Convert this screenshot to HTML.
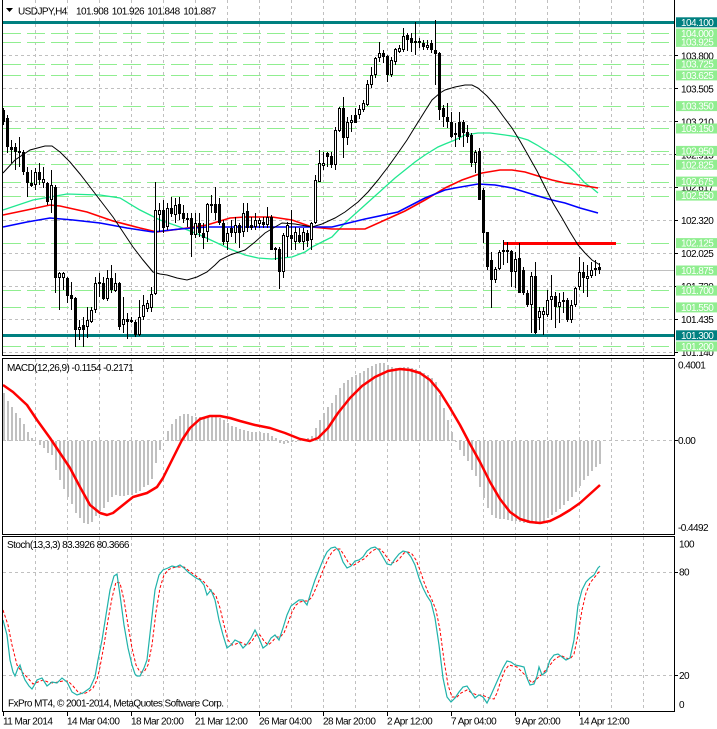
<!DOCTYPE html>
<html><head><meta charset="utf-8"><style>
html,body{margin:0;padding:0;background:#fff;}
svg{display:block;}
text{font-family:"Liberation Sans",sans-serif;font-size:10px;letter-spacing:-0.55px;}
</style></head><body>
<svg width="717" height="729" viewBox="0 0 717 729" xmlns="http://www.w3.org/2000/svg">
<rect x="0" y="0" width="717" height="729" fill="#fff"/>
<!-- vertical grid -->
<g stroke="#c0c0c0" stroke-width="1" stroke-dasharray="3,3">
<path d="M35.5 0V355M67.5 0V355M99.5 0V355M131.5 0V355M163.5 0V355M195.5 0V355M227.5 0V355M259.5 0V355M291.5 0V355M323.5 0V355M355.5 0V355M387.5 0V355M419.5 0V355M451.5 0V355M483.5 0V355M515.5 0V355M547.5 0V355M579.5 0V355M611.5 0V355M643.5 0V355"/>
<path d="M35.5 359V534M67.5 359V534M99.5 359V534M131.5 359V534M163.5 359V534M195.5 359V534M227.5 359V534M259.5 359V534M291.5 359V534M323.5 359V534M355.5 359V534M387.5 359V534M419.5 359V534M451.5 359V534M483.5 359V534M515.5 359V534M547.5 359V534M579.5 359V534M611.5 359V534M643.5 359V534"/>
<path d="M35.5 537V711M67.5 537V711M99.5 537V711M131.5 537V711M163.5 537V711M195.5 537V711M227.5 537V711M259.5 537V711M291.5 537V711M323.5 537V711M355.5 537V711M387.5 537V711M419.5 537V711M451.5 537V711M483.5 537V711M515.5 537V711M547.5 537V711M579.5 537V711M611.5 537V711M643.5 537V711"/>
<path d="M3 55.5H674M3 88.5H674M3 121.5H674M3 154.5H674M3 187.5H674M3 220.5H674M3 253.5H674M3 286.5H674M3 319.5H674M3 352.5H674"/>
<path d="M3 440.5H674M3 572.5H674M3 675.5H674"/>
</g>
<!-- green dashed levels -->
<g stroke="#90ee90" stroke-width="1" stroke-dasharray="18,6">
<path d="M3 33.5H674M3 42.5H674M3 64.5H674M3 75.5H674M3 106.5H674M3 128.5H674M3 151.5H674M3 164.5H674M3 182.5H674M3 196.5H674M3 243.5H674M3 290.5H674M3 307.5H674M3 346.5H674"/>
</g>
<!-- bid line -->
<path d="M3 270.5H674" stroke="#c0c0c0" stroke-width="1"/>
<!-- teal lines -->
<path d="M3 22.5H674M3 335.5H674" stroke="#008080" stroke-width="3"/>
<!-- red level -->
<path d="M503 243.5H616" stroke="#ff0000" stroke-width="3"/>
<!-- moving averages -->
<polyline fill="none" stroke="#20e890" stroke-width="1.3" points="3,210 33,200 67,194 100,195 120,198 140,210 160,220 180,227 200,235 215,242 230,249 245,255 258,258 272,259 292,257 305,252 312,247 322,242 332,237 345,223 355,214 365,205 375,196 385,187 395,178 405,170 415,162 425,155 438,147 445,144 455,140 465,135 478,133 490,133 505,135 518,137 528,140 537,145 545,150 555,156 565,163 575,172 585,183 592,188 598,193"/>
<polyline fill="none" stroke="#ff0000" stroke-width="1.6" points="3,215 27,210 50,205 60,206 87,212 113,221 140,228 157,232 180,229 207,225 230,218 245,217 272,217 292,220 312,227 332,229 365,229 385,220 405,211 425,200 445,188 462,180 482,173 500,170 512,170 525,172 538,176 552,180 565,183 580,185 598,188"/>
<polyline fill="none" stroke="#0000ff" stroke-width="1.6" points="3,227 27,222 50,218 73,220 100,223 127,228 153,232 180,229 207,227 230,227 272,227 305,227 332,227 365,219 398,212 425,198 445,190 455,188 478,184 495,185 512,188 525,192 538,196 552,200 565,203 580,208 598,213"/>
<polyline fill="none" stroke="#000" stroke-width="1" points="3,173 15,160 30,150 45,146 52,146 60,152 70,162 80,174 87,183 100,200 113,217 123,232 133,247 143,260 153,272 160,274 167,275 177,278 187,280 197,277 207,272 215,265 220,260 230,255 245,250 255,242 265,233 275,227 282,223 295,224 312,227 322,224 335,218 345,212 358,202 368,192 378,180 388,167 398,153 407,140 415,127 425,111 432,100 440,93 445,90 455,87 465,85 472,85 478,88 487,96 495,105 503,116 512,128 520,141 528,155 537,171 545,187 553,203 562,218 570,232 578,245 585,253 592,260 600,265"/>
<!-- candle wicks -->
<path fill="none" stroke="#000" stroke-width="1" d="M3.5 108V125M7.5 115V153M11.5 140V163M15.5 143V170M19.5 137V167M23.5 150V175M27.5 167V197M31.5 170V187M35.5 168V190M39.5 163V185M43.5 167V188M47.5 182V205M51.5 170V213M55.5 185V293M59.5 272V310M63.5 272V290M67.5 277V303M71.5 282V310M75.5 297V347M79.5 320V340M83.5 317V347M87.5 307V338M91.5 307V323M95.5 277V313M99.5 273V297M103.5 277V300M107.5 270V301M111.5 265V293M115.5 273V292M119.5 282V330M123.5 297V333M127.5 313V339M131.5 317V323M135.5 320V337M139.5 300V336M143.5 295V320M147.5 300V312M151.5 287V312M155.5 182V295M159.5 203V232M163.5 200V233M167.5 203V230M171.5 197V217M175.5 198V223M179.5 197V220M183.5 205V223M187.5 213V227M191.5 213V257M195.5 213V238M199.5 213V237M203.5 223V249M207.5 203V242M211.5 195V213M215.5 187V220M219.5 198V225M223.5 220V245M227.5 228V250M231.5 220V237M235.5 217V243M239.5 223V248M243.5 203V237M247.5 203V232M251.5 217V230M255.5 213V230M259.5 218V228M263.5 217V228M267.5 207V228M271.5 215V250M275.5 247V260M279.5 247V289M283.5 233V278M287.5 222V257M291.5 210V250M295.5 227V250M299.5 228V243M303.5 228V250M307.5 230V247M311.5 222V250M315.5 175V224M319.5 150V182M323.5 152V170M327.5 152V167M331.5 152V168M335.5 127V170M339.5 107V132M343.5 97V158M347.5 117V145M351.5 115V132M355.5 108V123M359.5 105V119M363.5 100V112M367.5 80V106M371.5 67V88M375.5 57V78M379.5 42V62M383.5 50V63M387.5 55V82M391.5 57V77M395.5 48V65M399.5 45V53M403.5 28V52M407.5 33V51M411.5 33V52M415.5 22V55M419.5 38V48M423.5 40V50M427.5 40V50M431.5 40V53M435.5 20V85M439.5 52V120M443.5 105V127M447.5 103V128M451.5 112V138M455.5 123V147M459.5 112V140M463.5 120V147M467.5 125V143M471.5 133V167M475.5 150V173M479.5 148V200M483.5 188V243M487.5 232V270M491.5 252V308M495.5 267V283M499.5 250V270M503.5 240V265M507.5 242V263M511.5 250V287M515.5 252V288M519.5 243V293M523.5 267V295M527.5 290V307M531.5 272V333M535.5 262V334M539.5 307V330M543.5 307V335M547.5 290V317M551.5 275V320M555.5 292V328M559.5 293V323M563.5 292V313M567.5 298V322M571.5 300V323M575.5 287V307M579.5 257V290M583.5 262V293M587.5 265V297M591.5 262V278M595.5 260V276M599.5 263V274"/>
<!-- bearish bodies -->
<path fill="#000" stroke="none" d="M2 110h3v12h-3zM6 118h3v29h-3zM10 147h3v3h-3zM14 147h3v5h-3zM22 152h3v20h-3zM26 172h3v11h-3zM30 183h3v3h-3zM38 172h3v8h-3zM46 183h3v19h-3zM54 187h3v91h-3zM66 278h3v18h-3zM70 295h3v4h-3zM74 298h3v32h-3zM82 325h3v5h-3zM102 283h3v16h-3zM110 278h3v12h-3zM118 283h3v44h-3zM126 319h3v3h-3zM134 322h3v13h-3zM162 210h3v18h-3zM170 208h3v6h-3zM178 204h3v10h-3zM182 213h3v6h-3zM190 218h3v17h-3zM198 223h3v10h-3zM202 233h3v5h-3zM214 204h3v9h-3zM218 204h3v19h-3zM222 223h3v19h-3zM230 228h3v5h-3zM238 225h3v8h-3zM246 211h3v17h-3zM250 225h3v3h-3zM262 222h3v3h-3zM270 217h3v33h-3zM274 248h3v2h-3zM278 249h3v23h-3zM290 235h3v4h-3zM298 235h3v7h-3zM306 233h3v8h-3zM326 153h3v4h-3zM330 156h3v9h-3zM342 108h3v30h-3zM354 115h3v8h-3zM382 53h3v4h-3zM386 56h3v19h-3zM406 35h3v5h-3zM410 38h3v5h-3zM414 41h3v2h-3zM418 41h3v2h-3zM422 43h3v4h-3zM430 43h3v7h-3zM434 50h3v4h-3zM438 53h3v57h-3zM442 108h3v9h-3zM446 117h3v5h-3zM450 122h3v15h-3zM458 122h3v15h-3zM462 122h3v11h-3zM466 132h3v5h-3zM470 135h3v28h-3zM478 151h3v49h-3zM482 190h3v43h-3zM486 232h3v35h-3zM490 260h3v20h-3zM510 251h3v21h-3zM518 258h3v35h-3zM522 270h3v23h-3zM526 293h3v12h-3zM534 276h3v57h-3zM554 296h3v11h-3zM566 300h3v20h-3zM582 272h3v6h-3zM598 267h3v3h-3z"/>
<!-- bullish bodies -->
<path fill="#fff" stroke="#000" stroke-width="1" d="M18.5 151.5h2v1h-2zM34.5 172.5h2v12h-2zM42.5 179.5h2v3h-2zM50.5 185.5h2v14h-2zM58.5 273.5h2v4h-2zM62.5 273.5h2v4h-2zM78.5 327.5h2v2h-2zM86.5 320.5h2v6h-2zM90.5 310.5h2v11h-2zM94.5 283.5h2v26h-2zM98.5 282.5h2v1h-2zM106.5 278.5h2v20h-2zM114.5 283.5h2v7h-2zM122.5 319.5h2v5h-2zM130.5 320.5h2v1h-2zM138.5 317.5h2v17h-2zM142.5 305.5h2v11h-2zM146.5 303.5h2v5h-2zM150.5 294.5h2v13h-2zM154.5 210.5h2v83h-2zM158.5 210.5h2v4h-2zM166.5 208.5h2v18h-2zM174.5 205.5h2v9h-2zM186.5 218.5h2v1h-2zM194.5 223.5h2v11h-2zM206.5 204.5h2v27h-2zM210.5 204.5h2v1h-2zM226.5 233.5h2v8h-2zM234.5 225.5h2v7h-2zM242.5 213.5h2v18h-2zM254.5 220.5h2v6h-2zM258.5 220.5h2v3h-2zM266.5 217.5h2v7h-2zM282.5 235.5h2v36h-2zM286.5 225.5h2v11h-2zM294.5 232.5h2v9h-2zM302.5 232.5h2v9h-2zM310.5 223.5h2v16h-2zM314.5 180.5h2v42h-2zM318.5 163.5h2v18h-2zM322.5 163.5h2v2h-2zM334.5 130.5h2v34h-2zM338.5 108.5h2v22h-2zM346.5 122.5h2v15h-2zM350.5 120.5h2v2h-2zM358.5 109.5h2v5h-2zM362.5 103.5h2v6h-2zM366.5 84.5h2v20h-2zM370.5 75.5h2v9h-2zM374.5 58.5h2v16h-2zM378.5 53.5h2v4h-2zM390.5 60.5h2v14h-2zM394.5 49.5h2v12h-2zM398.5 48.5h2v3h-2zM402.5 36.5h2v13h-2zM426.5 45.5h2v2h-2zM454.5 133.5h2v1h-2zM474.5 152.5h2v10h-2zM494.5 269.5h2v10h-2zM498.5 252.5h2v16h-2zM502.5 250.5h2v1h-2zM506.5 250.5h2v1h-2zM514.5 259.5h2v12h-2zM530.5 276.5h2v28h-2zM538.5 311.5h2v6h-2zM542.5 311.5h2v3h-2zM546.5 300.5h2v14h-2zM550.5 296.5h2v3h-2zM558.5 302.5h2v4h-2zM562.5 300.5h2v1h-2zM570.5 305.5h2v14h-2zM574.5 288.5h2v16h-2zM578.5 272.5h2v14h-2zM586.5 276.5h2v2h-2zM590.5 270.5h2v5h-2zM594.5 268.5h2v1h-2z"/>
<!-- MACD histogram -->
<path fill="none" stroke="#c0c0c0" stroke-width="2" d="M4 441V393M8 441V401M12 441V407M16 441V413M20 441V418M24 441V424M28 441V432M32 441V438M40 441V445M44 441V448M48 441V453M52 441V455M56 441V470M60 441V480M64 441V489M68 441V497M72 441V504M76 441V513M80 441V518M84 441V523M88 441V524M92 441V522M96 441V516M100 441V511M104 441V508M108 441V502M112 441V497M116 441V495M120 441V496M124 441V496M128 441V495M132 441V495M136 441V493M140 441V491M144 441V487M148 441V485M152 441V479M156 441V463M160 441V450M168 441V431M172 441V424M176 441V419M180 441V416M184 441V414M188 441V414M192 441V416M196 441V417M200 441V417M204 441V417M208 441V417M212 441V416M216 441V417M220 441V418M224 441V420M228 441V423M232 441V426M236 441V427M240 441V429M244 441V430M248 441V431M252 441V432M256 441V432M260 441V432M264 441V433M268 441V433M272 441V436M276 441V438M280 441V443M284 441V444M288 441V443M292 441V442M296 441V442M300 441V440M304 441V440M308 441V438M312 441V436M316 441V428M320 441V420M324 441V413M328 441V407M332 441V403M336 441V395M340 441V388M344 441V383M348 441V380M352 441V377M356 441V375M360 441V373M364 441V371M368 441V368M372 441V366M376 441V364M380 441V363M384 441V363M388 441V365M392 441V367M396 441V368M400 441V368M404 441V367M408 441V367M412 441V368M416 441V369M420 441V371M424 441V373M428 441V375M432 441V378M436 441V382M440 441V395M444 441V408M448 441V420M452 441V432M456 441V442M460 441V450M464 441V456M468 441V461M472 441V470M476 441V476M480 441V487M484 441V498M488 441V508M492 441V515M496 441V518M500 441V519M504 441V519M508 441V520M512 441V521M516 441V521M520 441V522M524 441V523M528 441V523M532 441V523M536 441V524M540 441V522M544 441V521M548 441V518M552 441V515M556 441V512M560 441V509M564 441V505M568 441V501M572 441V497M576 441V492M580 441V486M584 441V480M588 441V476M592 441V471M596 441V467M600 441V464"/>
<polyline fill="none" stroke="#ff0000" stroke-width="2.5" stroke-linejoin="round" points="3,385 13,392 27,405 37,420 50,438 60,453 70,468 80,487 90,505 100,513 107,515 113,513 123,505 133,497 147,493 157,487 163,478 173,458 182,440 190,428 200,419 210,416 220,416 230,418 240,421 255,425 270,428 285,433 300,439 310,441 318,438 328,428 338,413 350,398 362,386 375,377 388,371 400,369 410,370 420,373 430,380 440,392 450,408 460,425 470,444 480,462 490,482 500,499 510,512 520,519 530,522 540,523 550,521 560,516 570,510 580,503 590,494 600,485"/>
<!-- Stochastic -->
<polyline fill="none" stroke="#ff0000" stroke-width="1" stroke-dasharray="3,2" points="3,610 8,625 12,645 17,665 22,672 27,677 33,684 38,682 43,680 48,682 53,683 58,682 63,681 68,681 73,686 78,692 83,694 88,692 93,688 97,680 100,667 104,645 108,620 112,598 116,582 120,583 124,600 128,625 132,648 136,665 140,672 144,672 148,665 152,645 156,612 160,588 164,575 168,570 172,568 176,567 180,567 184,567 188,570 192,573 196,576 200,579 204,582 208,587 212,592 216,596 220,608 224,625 228,640 232,645 236,644 240,642 244,644 248,645 252,641 256,635 260,635 264,641 268,645 272,642 276,637 280,637 284,633 288,623 292,612 296,605 300,602 304,601 308,601 312,597 316,588 320,578 324,568 328,559 332,552 336,549 340,549 344,555 348,562 352,566 356,564 360,561 364,559 368,555 372,551 376,549 380,549 384,553 388,559 392,563 396,562 400,558 404,553 408,552 412,554 416,560 420,570 424,582 428,592 432,600 436,610 440,630 444,660 448,685 452,697 457,697 461,693 467,690 472,693 477,695 482,695 489,698 494,699 497,693 501,680 505,670 509,665 517,667 525,675 532,683 539,677 544,672 550,665 554,660 558,657 562,656 566,658 570,659 574,654 578,635 582,610 586,593 590,583 594,578 598,573 600,571"/>
<polyline fill="none" stroke="#20b2aa" stroke-width="1.2" points="3,620 7,635 10,660 13,672 15,676 18,668 20,665 23,675 25,680 29,686 32,689 35,684 37,680 42,678 47,686 52,682 57,683 62,678 67,682 72,692 77,695 83,693 90,688 95,677 98,660 102,640 106,615 110,590 114,576 117,574 120,595 124,625 128,648 132,665 135,674 137,676 140,676 144,668 147,660 151,625 155,590 159,575 163,570 168,568 172,566 176,567 180,565 184,568 188,572 192,575 196,578 200,580 204,585 207,595 211,590 215,600 219,620 223,635 227,648 231,645 235,640 239,642 243,648 247,644 251,638 255,630 259,638 263,648 267,645 271,638 275,635 279,640 283,628 287,615 291,606 295,603 299,600 303,600 307,605 311,592 315,580 319,570 323,560 327,552 331,548 335,547 339,551 343,562 347,568 351,566 355,561 359,560 363,557 367,551 371,548 375,547 379,550 383,557 387,564 391,565 395,559 399,554 403,551 407,552 411,557 415,565 419,578 423,588 427,596 431,602 435,618 439,645 443,678 447,697 451,702 455,698 459,692 463,687 467,686 471,692 475,698 479,695 483,697 487,703 491,695 495,686 499,677 503,668 507,661 511,662 515,665 520,666 524,667 527,678 530,685 534,684 537,676 539,667 542,675 546,672 550,660 554,655 558,654 562,657 566,660 570,658 574,640 578,605 582,590 586,582 590,578 594,575 598,568 600,566"/>
<!-- frames -->
<g fill="none" stroke="#000" stroke-width="1">
<path d="M2.5 0V355.5H674.5V0"/>
<rect x="2.5" y="358.5" width="672" height="176"/>
<rect x="2.5" y="536.5" width="672" height="175"/>
</g>
<!-- right axis ticks -->
<path stroke="#000" stroke-width="1" d="M675 55.5h3M675 88.5h3M675 121.5h3M675 154.5h3M675 187.5h3M675 220.5h3M675 253.5h3M675 286.5h3M675 319.5h3M675 352.5h3M675 440.5h3M675 572.5h3M675 675.5h3M3.5 712v4M67.5 712v4M131.5 712v4M195.5 712v4M259.5 712v4M323.5 712v4M387.5 712v4M451.5 712v4M515.5 712v4M579.5 712v4"/>
<!-- header -->
<polygon points="6,8 13,8 9.5,12" fill="#000"/>
<text x="18" y="14.5" fill="#000">USDJPY,H4</text>
<text x="76" y="14.5" fill="#000">101.908</text>
<text x="111.7" y="14.5" fill="#000">101.926</text>
<text x="147.3" y="14.5" fill="#000">101.848</text>
<text x="183.3" y="14.5" fill="#000">101.887</text>
<text x="7" y="371" fill="#000">MACD(12,26,9) -0.1154 -0.2171</text>
<text x="7" y="548" fill="#000">Stoch(13,3,3) 83.3926 80.3666</text>
<text x="8" y="706.5" fill="#000">FxPro MT4, © 2001-2014, MetaQuotes Software Corp.</text>
<!-- right axis black labels -->
<g fill="#000">
<text x="681" y="59.3">103.800</text>
<text x="681" y="92.3">103.505</text>
<text x="681" y="125.3">103.210</text>
<text x="681" y="158.3">102.915</text>
<text x="681" y="191.2">102.617</text>
<text x="681" y="224.2">102.320</text>
<text x="681" y="257.2">102.025</text>
<text x="681" y="290.2">101.730</text>
<text x="681" y="323.2">101.435</text>
<text x="681" y="356.1">101.140</text>
<text x="678" y="368.5">0.4001</text>
<text x="678" y="444">0.00</text>
<text x="678" y="531">-0.4492</text>
<text x="679" y="547.5">100</text>
<text x="679" y="575.5">80</text>
<text x="679" y="679">20</text>
<text x="679" y="708">0</text>
</g>
<!-- colored price labels -->
<g>
<rect x="676" y="341.5" width="41" height="10" fill="#90ee90"/><text x="681" y="350" fill="#fff">101.200</text>
<rect x="676" y="330.3" width="41" height="10" fill="#008080"/><text x="681" y="338.8" fill="#fff">101.300</text>
<rect x="676" y="302.4" width="41" height="10" fill="#90ee90"/><text x="681" y="310.9" fill="#fff">101.550</text>
<rect x="676" y="285.6" width="41" height="10" fill="#90ee90"/><text x="681" y="294.1" fill="#fff">101.700</text>
<rect x="676" y="265.5" width="41" height="10" fill="#90ee90"/><text x="681" y="274" fill="#fff">101.875</text>
<rect x="676" y="238.1" width="41" height="10" fill="#90ee90"/><text x="681" y="246.6" fill="#fff">102.125</text>
<rect x="676" y="190.6" width="41" height="10" fill="#90ee90"/><text x="681" y="199.1" fill="#fff">102.550</text>
<rect x="676" y="176.6" width="41" height="10" fill="#90ee90"/><text x="681" y="185.1" fill="#fff">102.675</text>
<rect x="676" y="159.8" width="41" height="10" fill="#90ee90"/><text x="681" y="168.3" fill="#fff">102.825</text>
<rect x="676" y="145.9" width="41" height="10" fill="#90ee90"/><text x="681" y="154.4" fill="#fff">102.950</text>
<rect x="676" y="123.5" width="41" height="10" fill="#90ee90"/><text x="681" y="132" fill="#fff">103.150</text>
<rect x="676" y="101.1" width="41" height="10" fill="#90ee90"/><text x="681" y="109.6" fill="#fff">103.350</text>
<rect x="676" y="70.4" width="41" height="10" fill="#90ee90"/><text x="681" y="78.9" fill="#fff">103.625</text>
<rect x="676" y="59.2" width="41" height="10" fill="#90ee90"/><text x="681" y="67.7" fill="#fff">103.725</text>
<rect x="676" y="36.9" width="41" height="10" fill="#90ee90"/><text x="681" y="45.4" fill="#fff">103.925</text>
<rect x="676" y="28.5" width="41" height="10" fill="#90ee90"/><text x="681" y="37" fill="#fff">104.000</text>
<rect x="676" y="17.3" width="41" height="10" fill="#008080"/><text x="681" y="25.8" fill="#fff">104.100</text>
</g>
<!-- time axis -->
<g fill="#000">
<text x="3" y="724.5">11 Mar 2014</text>
<text x="67" y="724.5">14 Mar 04:00</text>
<text x="131" y="724.5">18 Mar 20:00</text>
<text x="195" y="724.5">21 Mar 12:00</text>
<text x="259" y="724.5">26 Mar 04:00</text>
<text x="323" y="724.5">28 Mar 20:00</text>
<text x="387" y="724.5">2 Apr 12:00</text>
<text x="451" y="724.5">7 Apr 04:00</text>
<text x="515" y="724.5">9 Apr 20:00</text>
<text x="579" y="724.5">14 Apr 12:00</text>
</g>
</svg>
</body></html>
